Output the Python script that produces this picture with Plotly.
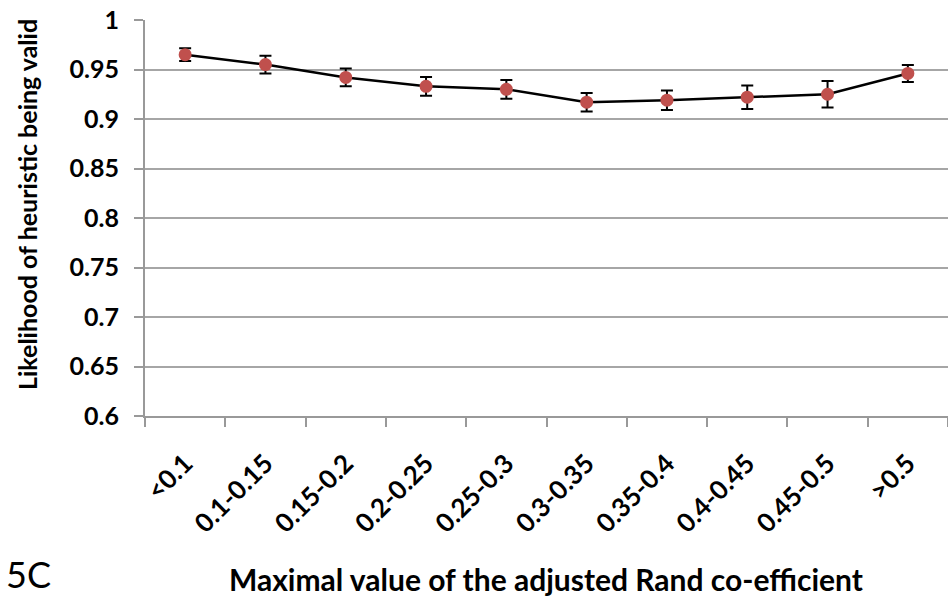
import plotly.graph_objects as go

categories = ["<0.1", "0.1-0.15", "0.15-0.2", "0.2-0.25", "0.25-0.3",
              "0.3-0.35", "0.35-0.4", "0.4-0.45", "0.45-0.5", ">0.5"]
likelihood = [0.965, 0.955, 0.942, 0.933, 0.930, 0.917, 0.919, 0.922, 0.925, 0.946]
error = [0.0064, 0.009, 0.009, 0.0095, 0.0095, 0.0093, 0.0098, 0.0119, 0.0134, 0.0086]
y_ticks = [0.6, 0.65, 0.7, 0.75, 0.8, 0.85, 0.9, 0.95, 1.0]
y_tick_text = ["0.6", "0.65", "0.7", "0.75", "0.8", "0.85", "0.9", "0.95", "1"]

FONT = "Lato"
L, R, T, B = 145, 0, 20, 182
W, H = 948, 598
pw, ph = W - L - R, H - T - B

def px(x):
    return (x - L) / pw

def py(y):
    return (H - B - y) / ph

fig = go.Figure()
fig.add_trace(go.Scatter(
    x=categories, y=likelihood, mode="lines+markers",
    line=dict(color="black", width=2.5),
    marker=dict(color="#C0504D", size=13),
    error_y=dict(type="data", array=error, visible=True,
                 color="black", thickness=2, width=6),
    showlegend=False,
))

fig.update_layout(
    width=W, height=H,
    margin=dict(l=L, r=R, t=T, b=B),
    paper_bgcolor="white", plot_bgcolor="white",
    font=dict(family=FONT, color="black"),
    xaxis=dict(
        type="category", range=[-0.5, 9.5],
        showline=True, linecolor="#999999", linewidth=2,
        ticks="outside", tickson="boundaries", ticklen=9, tickwidth=2,
        tickcolor="#999999", tickangle=-45,
        tickfont=dict(family=FONT, size=26, color="black", weight="bold"),
        ticklabelstandoff=20,
        showgrid=False,
    ),
    yaxis=dict(
        range=[0.6, 1.0], tickvals=y_ticks, ticktext=y_tick_text,
        showline=True, linecolor="#999999", linewidth=2,
        ticks="outside", ticklen=9, tickwidth=2, tickcolor="#999999",
        showgrid=True, gridcolor="#a6a6a6", gridwidth=2,
        tickfont=dict(family=FONT, size=25, color="black", weight="bold"),
        ticklabelstandoff=10,
        zeroline=False,
    ),
)

fig.add_annotation(
    text="Maximal value of the adjusted Rand co-efficient",
    xref="paper", yref="paper", x=px(546), y=py(579),
    xanchor="center", yanchor="middle", showarrow=False,
    font=dict(family=FONT, size=30, color="black", weight="bold"),
)
fig.add_annotation(
    text="5C",
    xref="paper", yref="paper", x=px(4), y=py(574),
    xanchor="left", yanchor="middle", showarrow=False,
    font=dict(family=FONT, size=36, color="black"),
)
fig.add_annotation(
    text="Likelihood of heuristic being valid",
    xref="paper", yref="paper", x=px(27), y=py(205),
    xanchor="center", yanchor="middle", showarrow=False, textangle=-90,
    font=dict(family=FONT, size=25, color="black", weight="bold"),
)

fig.write_html("out.html")
